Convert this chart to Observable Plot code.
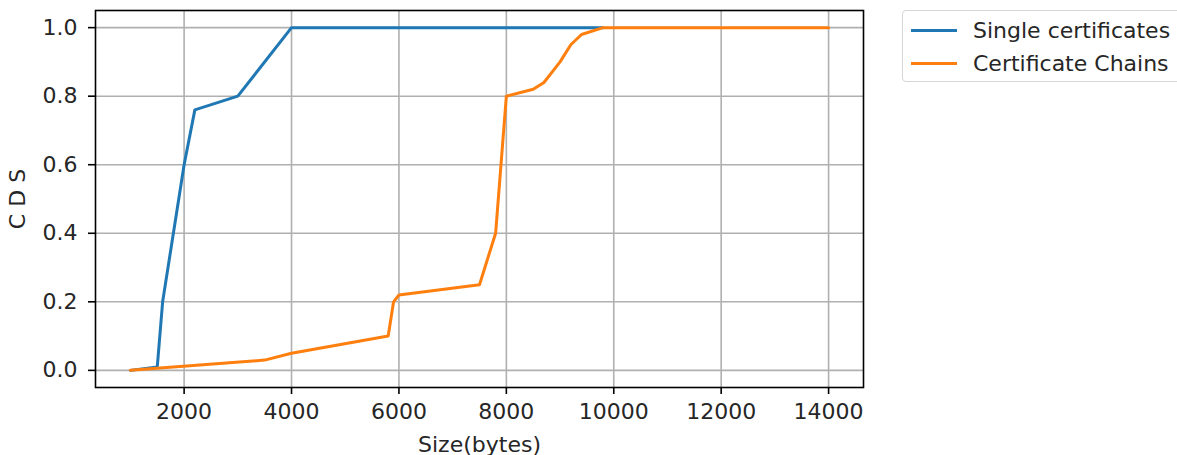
<!DOCTYPE html>
<html>
<head>
<meta charset="utf-8">
<script src="https://cdn.jsdelivr.net/npm/d3@7"></script>
<script src="https://cdn.jsdelivr.net/npm/@observablehq/plot@0.6"></script>
<style>
  html, body { margin: 0; padding: 0; background: #fff; overflow: hidden; }
  #wrap { position: relative; width: 1177px; height: 455px; overflow: hidden; font-family: "DejaVu Sans", sans-serif; }
  #legend { position: absolute; left: 902px; top: 10px; width: 300px; height: 72px; border: 1px solid #d6d6d6; border-radius: 4px; background: #fff; box-sizing: border-box; }
  .row { position: absolute; left: 0; height: 30px; display: flex; align-items: center; font-size: 22px; color: #262626; white-space: nowrap; }
  .sw { display: inline-block; width: 46px; height: 3px; margin-left: 8px; margin-right: 16px; }
</style>
</head>
<body>
<div id="wrap"></div>
<script>
// Data
const seriesNames = ["Single certificates", "Certificate Chains"];
const seriesColors = ["#1f77b4", "#ff7f0e"];
const singleX = [1000, 1500, 1600, 2000, 2200, 3000, 4000, 9800];
const singleY = [0, 0.01, 0.2, 0.6, 0.76, 0.8, 1.0, 1.0];
const chainX = [1000, 3500, 4000, 5800, 5900, 6000, 7500, 7800, 8000, 8500, 8700, 9000, 9200, 9400, 9800, 14000];
const chainY = [0, 0.03, 0.05, 0.1, 0.2, 0.22, 0.25, 0.4, 0.8, 0.82, 0.84, 0.9, 0.95, 0.98, 1.0, 1.0];
const xTicks = [2000, 4000, 6000, 8000, 10000, 12000, 14000];
const yTicks = [0, 0.2, 0.4, 0.6, 0.8, 1.0];
const xLabel = "Size(bytes)";
const yLabel = "C D S";

const single = singleX.map((x, i) => ({x, y: singleY[i]}));
const chain = chainX.map((x, i) => ({x, y: chainY[i]}));

const chart = Plot.plot({
  width: 1177,
  height: 455,
  marginLeft: 95,
  marginTop: 10,
  marginBottom: 68,
  marginRight: 314,
  style: {fontFamily: "DejaVu Sans, sans-serif", fontSize: "22px", color: "#262626", background: "#fff"},
  x: {domain: [350, 14650]},
  y: {domain: [-0.05, 1.05]},
  marks: [
    Plot.gridX(xTicks, {stroke: "#b0b0b0", strokeOpacity: 1, strokeWidth: 1.6}),
    Plot.gridY(yTicks, {stroke: "#b0b0b0", strokeOpacity: 1, strokeWidth: 1.6}),
    Plot.line(single, {x: "x", y: "y", stroke: seriesColors[0], strokeWidth: 3}),
    Plot.line(chain, {x: "x", y: "y", stroke: seriesColors[1], strokeWidth: 3}),
    Plot.frame({stroke: "#000", strokeWidth: 1.6}),
    Plot.axisX(xTicks, {tickSize: 7, tickPadding: 9, tickFormat: d3.format("d"), stroke: "#000", strokeWidth: 1.6,
      label: xLabel, labelAnchor: "center", labelArrow: "none", labelOffset: 64}),
    Plot.axisY(yTicks, {tickSize: 7, tickPadding: 11, tickFormat: d3.format(".1f"), stroke: "#000", strokeWidth: 1.6,
      label: yLabel, labelAnchor: "center", labelArrow: "none", labelOffset: 86})
  ]
});
const wrap = document.getElementById("wrap");
wrap.appendChild(chart);

// Legend
const legend = document.createElement("div");
legend.id = "legend";
seriesNames.forEach((name, i) => {
  const row = document.createElement("div");
  row.className = "row";
  row.style.top = (4 + i * 33) + "px";
  const sw = document.createElement("span");
  sw.className = "sw";
  sw.style.background = seriesColors[i];
  row.appendChild(sw);
  row.appendChild(document.createTextNode(name));
  legend.appendChild(row);
});
wrap.appendChild(legend);
</script>
</body>
</html>
